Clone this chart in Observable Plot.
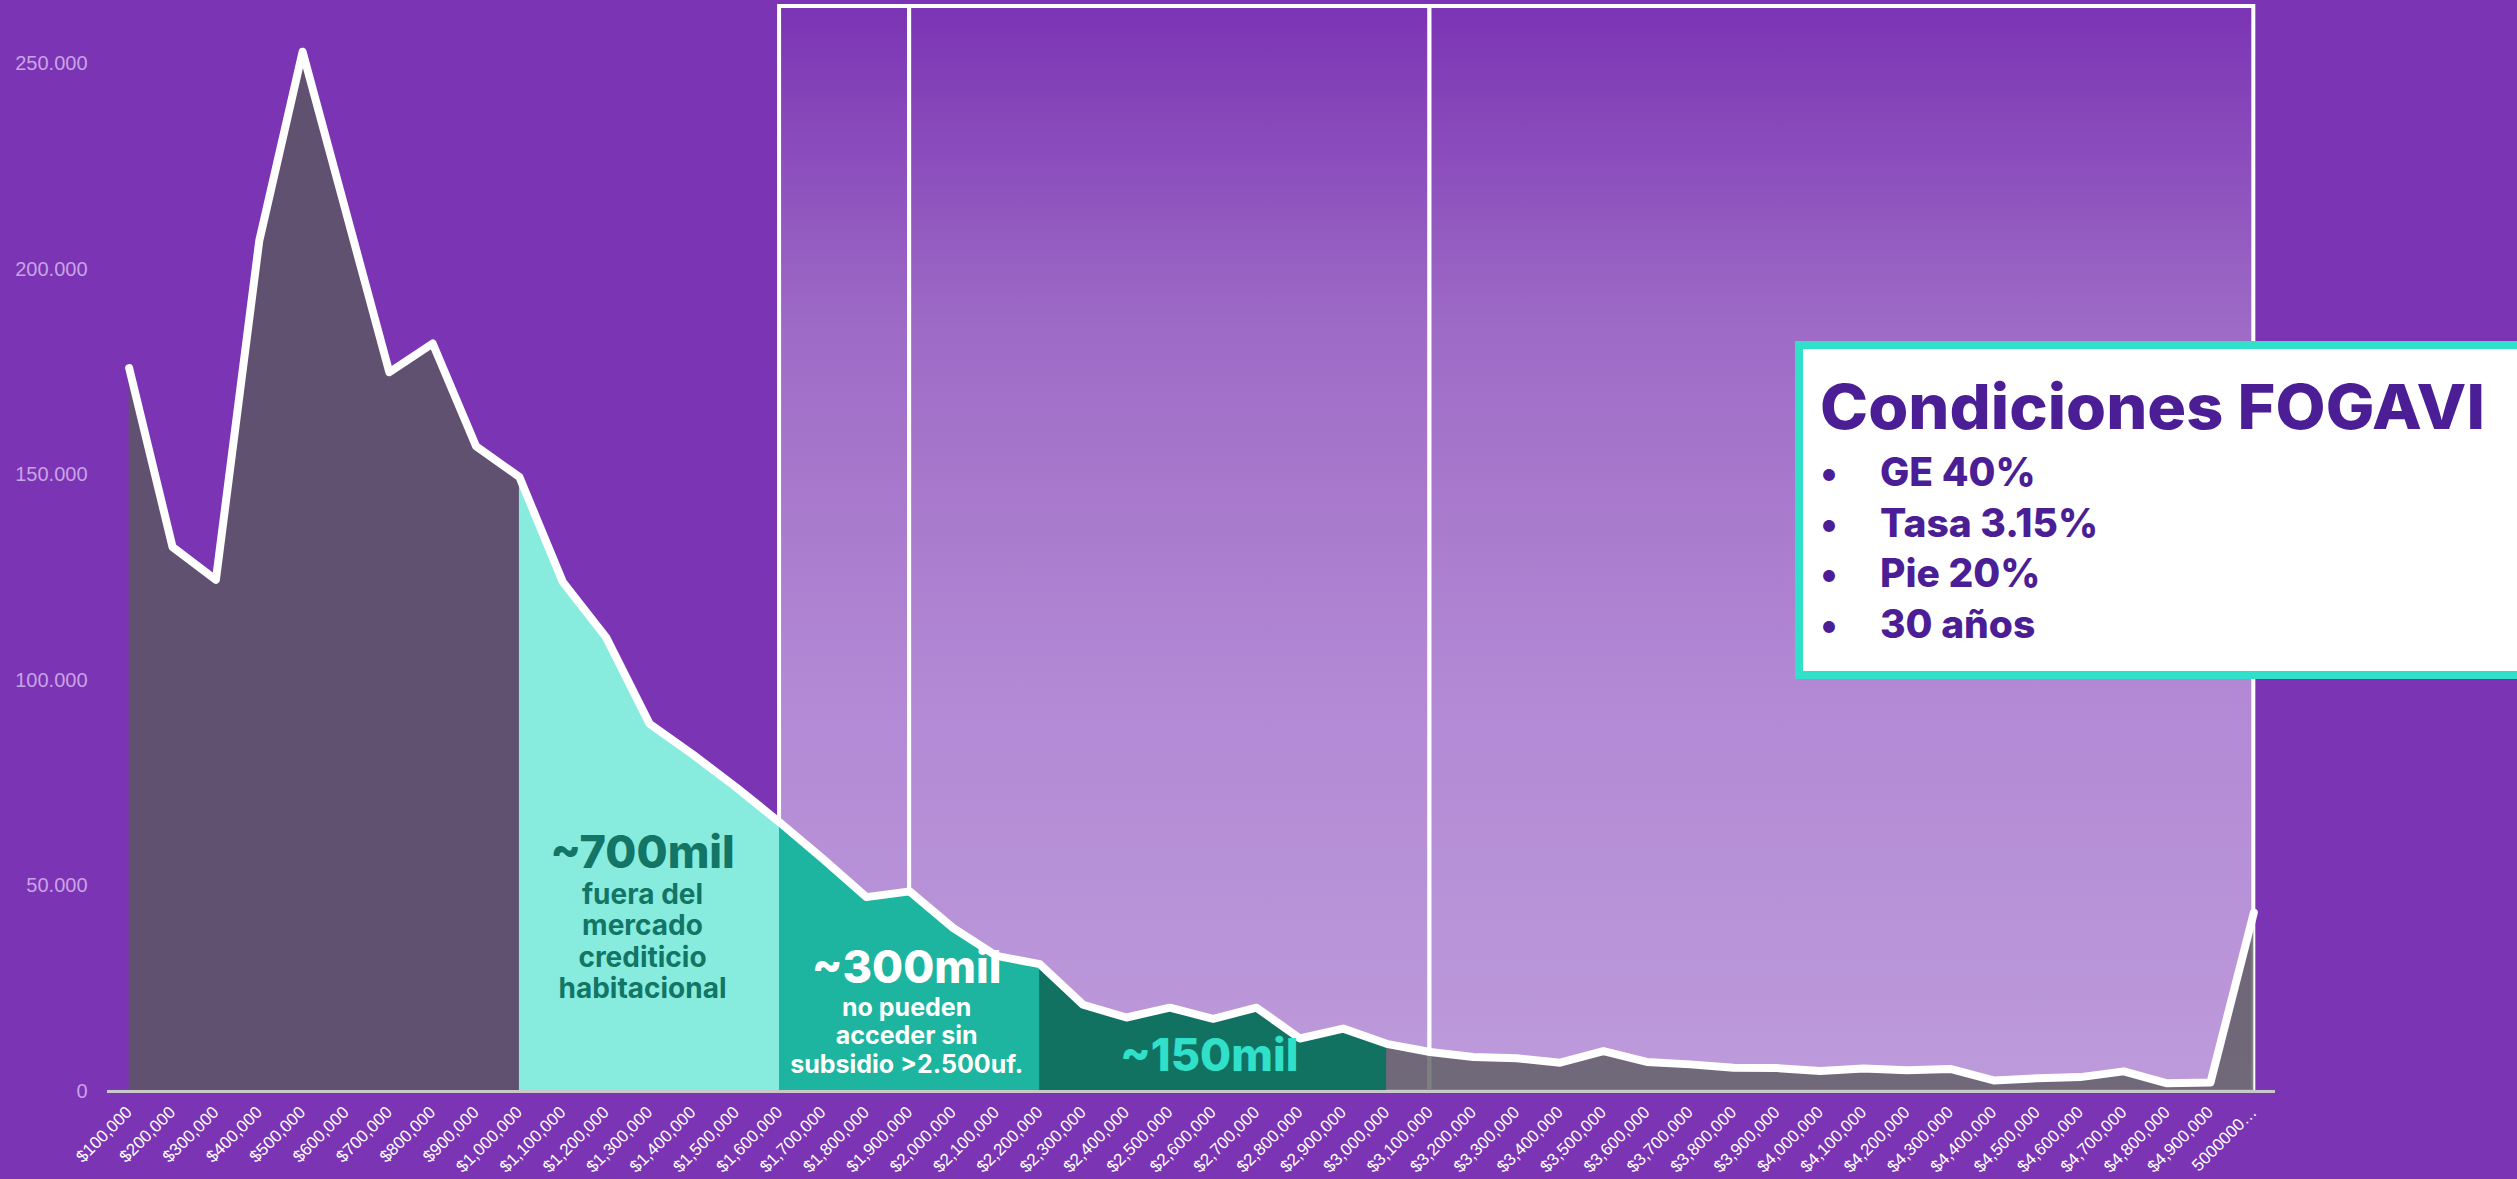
<!DOCTYPE html>
<html><head><meta charset="utf-8">
<script src="https://cdn.jsdelivr.net/npm/d3@7"></script>
<script src="https://cdn.jsdelivr.net/npm/@observablehq/plot@0.6"></script>
<style>
html,body{margin:0;padding:0;background:#7b34b4;overflow:hidden;width:2517px;height:1179px}
#chart svg{display:block}
</style></head><body><div id="chart"></div>
<script>
// ---- data ----
const labels = ["$100,000","$200,000","$300,000","$400,000","$500,000","$600,000","$700,000","$800,000","$900,000","$1,000,000",
"$1,100,000","$1,200,000","$1,300,000","$1,400,000","$1,500,000","$1,600,000","$1,700,000","$1,800,000","$1,900,000","$2,000,000",
"$2,100,000","$2,200,000","$2,300,000","$2,400,000","$2,500,000","$2,600,000","$2,700,000","$2,800,000","$2,900,000","$3,000,000",
"$3,100,000","$3,200,000","$3,300,000","$3,400,000","$3,500,000","$3,600,000","$3,700,000","$3,800,000","$3,900,000","$4,000,000",
"$4,100,000","$4,200,000","$4,300,000","$4,400,000","$4,500,000","$4,600,000","$4,700,000","$4,800,000","$4,900,000","5000000…"];
const counts = [176000,132500,124500,207000,253000,214000,175000,182000,157000,149500,
124000,110500,89500,82000,74000,65500,56600,47300,48700,39800,
33000,31000,21100,18000,20400,17700,20400,12900,15300,11600,
9600,8400,8100,7000,9800,7200,6600,5800,5700,5000,
5600,5200,5500,2700,3200,3500,4900,2000,2200,43500];
const yTicks = [0,50000,100000,150000,200000,250000];
const segmentEdges = ["$1,000,000","$1,600,000","$2,200,000","$3,000,000"];
const panelEdges = ["$1,600,000","$1,900,000","$3,100,000","5000000…"];
const boxTitle = "Condiciones FOGAVI";
const conditions = ["GE 40%","Tasa 3.15%","Pie 20%","30 años"];

// ---- derived ----
const data = labels.map((label, i) => ({label, value: counts[i]}));
const idx = l => labels.indexOf(l);
const segColors = ["#87ecde", "#1db5a0", "#127262"];
const segments = segmentEdges.slice(0, -1).map((e, k) => ({
  rows: data.slice(idx(e), idx(segmentEdges[k + 1]) + 1), fill: segColors[k]
}));
const panels = panelEdges.slice(0, -1).map((e, k) => ({a: e, b: panelEdges[k + 1]}));
const fmt = d => d3.format(",")(d).replace(/,/g, ".");
const YMAX = 264000;

const defs = () => {
  const d = d3.create("svg:defs");
  const g = d.append("linearGradient").attr("id", "lav").attr("gradientUnits", "userSpaceOnUse")
    .attr("x1", 0).attr("x2", 0).attr("y1", 6).attr("y2", 1091);
  [[0, "#7b34b4"], [0.3, "#9e6bc6"], [0.62, "#b288d4"], [1, "#bd9bdb"]]
    .forEach(([o, c]) => g.append("stop").attr("offset", o).attr("stop-color", c));
  return d.node();
};

const box = () => {
  const g = d3.create("svg:g").attr("text-anchor", "start");
  g.append("rect").attr("x", 1799).attr("y", 345).attr("width", 730).attr("height", 330)
    .attr("fill", "white").attr("stroke", "#30e0c8").attr("stroke-width", 8);
  g.append("text").attr("x", 1820).attr("y", 429).attr("text-anchor", "start")
    .attr("font-family", "Inter, 'Noto Sans', sans-serif").attr("font-weight", 800).attr("font-size", 62)
    .attr("fill", "#4b1e96").attr("textLength", 665).attr("lengthAdjust", "spacingAndGlyphs").text(boxTitle);
  conditions.forEach((t, k) => {
    const yb = 486 + k * 50.7;
    g.append("text").attr("x", 1829).attr("y", yb).attr("text-anchor", "middle")
      .attr("font-family", "Inter, sans-serif").attr("font-weight", 700).attr("font-size", 38)
      .attr("fill", "#4b1e96").text("•");
    g.append("text").attr("x", 1880).attr("y", yb).attr("text-anchor", "start")
      .attr("font-family", "Inter, sans-serif").attr("font-weight", 800).attr("font-size", 39)
      .attr("fill", "#4b1e96").text(t);
  });
  return g.node();
};

const F = "Inter, 'Noto Sans', sans-serif";
const chart = Plot.plot({
  width: 2517, height: 1179,
  marginLeft: 107, marginRight: 242, marginTop: 6, marginBottom: 88,
  style: {background: "transparent", fontFamily: "'Liberation Sans', Arial, sans-serif"},
  x: {type: "point", domain: labels, padding: 0.5, round: false},
  y: {domain: [0, YMAX]},
  marks: [
    defs,
    Plot.rect(panels, {x1: "a", x2: "b", y1: 0, y2: YMAX, fill: "url(#lav)", stroke: "white", strokeWidth: 4}),
    Plot.areaY(data, {x: "label", y: "value", fill: "rgb(88,90,91)", fillOpacity: 0.77}),
    ...segments.map(s => Plot.areaY(s.rows, {x: "label", y: "value", fill: s.fill})),
    Plot.ruleY([0], {stroke: "#c9c9c9", strokeWidth: 3}),
    Plot.lineY(data, {x: "label", y: "value", stroke: "white", strokeWidth: 8, strokeLinejoin: "round", strokeLinecap: "round"}),
    Plot.axisY({ticks: yTicks, tickFormat: fmt, tickSize: 0, tickPadding: 20, fontSize: 20, color: "#c9a3e6", label: null}),
    Plot.axisX({tickRotate: -45, tickSize: 0, tickPadding: 18, fontSize: 17, color: "white", label: null}),
    Plot.text([{x: "$1,300,000", y: 54500, t: "~700mil"}], {x: "x", y: "y", text: "t", dx: -7, fontFamily: F, fontWeight: 800, fontSize: 45, fill: "#137565", lineAnchor: "bottom"}),
    Plot.text([{x: "$1,300,000", y: 22630, t: "fuera del\nmercado\ncrediticio\nhabitacional"}], {x: "x", y: "y", text: "t", dx: -7, fontFamily: F, fontWeight: 700, fontSize: 28, lineHeight: 1.13, fill: "#137565", lineAnchor: "bottom"}),
    Plot.text([{x: "$1,900,000", y: 26520, t: "~300mil"}], {x: "x", y: "y", text: "t", dx: -3, fontFamily: F, fontWeight: 800, fontSize: 45, fill: "white", lineAnchor: "bottom"}),
    Plot.text([{x: "$1,900,000", y: 4620, t: "no pueden\nacceder sin\nsubsidio >2.500uf."}], {x: "x", y: "y", text: "t", dx: -3, fontFamily: F, fontWeight: 700, fontSize: 25, lineHeight: 1.14, fill: "white", lineAnchor: "bottom"}),
    Plot.text([{x: "$2,600,000", y: 4870, t: "~150mil"}], {x: "x", y: "y", text: "t", dx: -4, fontFamily: F, fontWeight: 800, fontSize: 45, fill: "#30e0c8", lineAnchor: "bottom"}),
    box
  ]
});
document.getElementById("chart").appendChild(chart);
</script></body></html>
